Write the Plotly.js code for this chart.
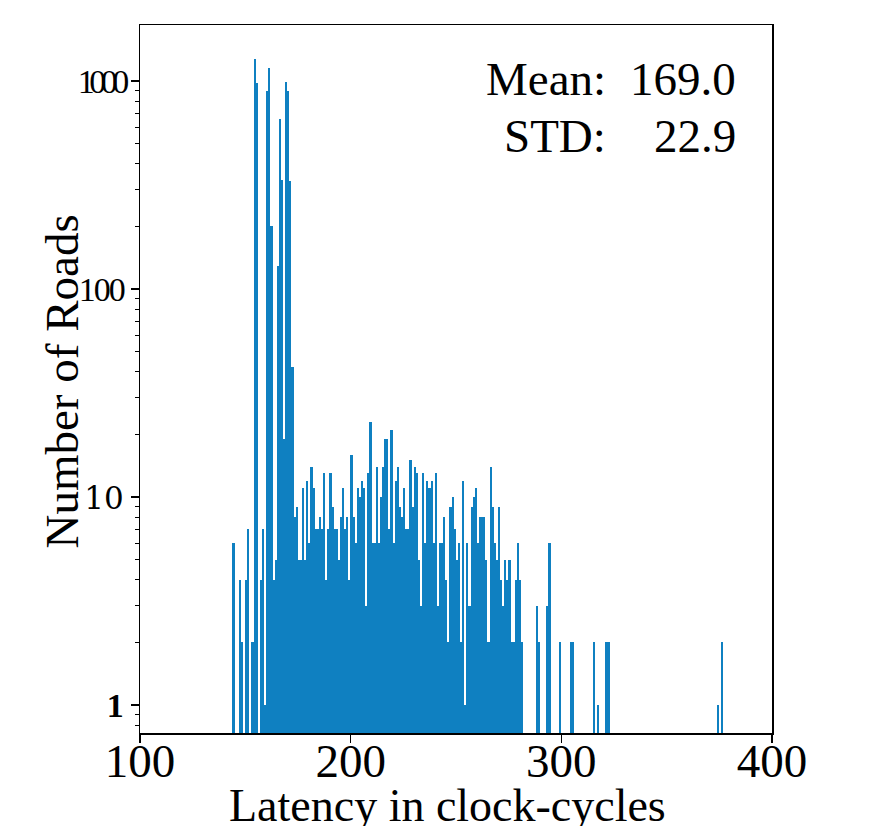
<!DOCTYPE html>
<html>
<head>
<meta charset="utf-8">
<script src="https://cdn.plot.ly/plotly-3.0.1.min.js"></script>
<style>
  html, body { margin: 0; padding: 0; background: #ffffff; }
  #chart { width: 881px; height: 826px; }
</style>
</head>
<body>
<div id="chart"></div>
<script>
// Latency bins (clock-cycles, width 1) that hold at least one road
const latencyBins = [
  144, 147, 148, 150, 151, 153, 154, 155, 157, 158, 159, 160, 161, 162, 163, 164, 165, 166, 167, 168,
  169, 170, 171, 172, 173, 174, 175, 176, 177, 178, 179, 180, 181, 182, 183, 184, 185, 186, 187, 188,
  189, 190, 191, 192, 193, 194, 195, 196, 197, 198, 199, 200, 201, 202, 203, 204, 205, 206, 207, 208,
  209, 210, 211, 212, 213, 214, 215, 216, 217, 218, 219, 220, 221, 222, 223, 224, 225, 226, 227, 228,
  229, 230, 231, 232, 233, 234, 235, 236, 237, 238, 239, 240, 241, 242, 243, 244, 245, 246, 247, 248,
  249, 250, 251, 252, 253, 254, 255, 256, 257, 258, 259, 260, 261, 262, 263, 264, 265, 266, 267, 268,
  269, 270, 271, 272, 273, 274, 275, 276, 277, 278, 279, 280, 281, 288, 289, 293, 294, 299, 304, 305,
  315, 317, 321, 322, 374, 376
];
// Number of roads in each bin
const roadCounts = [
  6, 4, 2, 4, 7, 2, 1280, 975, 4, 7, 1, 890, 1150, 200, 4, 5, 129, 654, 334, 19,
  993, 898, 331, 42, 8, 9, 5, 5, 11, 5, 12, 6, 14, 11, 7, 7, 8, 7, 13, 4,
  7, 13, 9, 7, 7, 5, 8, 11, 7, 8, 4, 16, 8, 6, 11, 10, 12, 11, 3, 13,
  23, 6, 6, 14, 6, 10, 14, 19, 19, 7, 21, 6, 12, 14, 9, 8, 11, 7, 7, 15,
  9, 14, 13, 5, 3, 13, 6, 12, 11, 12, 6, 13, 3, 6, 6, 8, 4, 2, 9, 10,
  7, 5, 6, 2, 12, 1, 6, 3, 9, 10, 11, 6, 8, 8, 8, 5, 2, 14, 9, 6,
  5, 9, 4, 3, 5, 4, 5, 2, 2, 4, 6, 4, 2, 3, 2, 3, 6, 2, 2, 2,
  2, 1, 2, 2, 1, 2
];
const xTickVals = [100, 200, 300, 400];
const xTickText = ['100', '200', '300', '400'];
const yTickVals = [1, 10, 100, 1000];
const yTickText = ['1', '10', '100', '1000'];
const yMinorVals = [0.8, 0.9, 2, 3, 4, 5, 6, 7, 8, 9, 20, 30, 40, 50, 60, 70, 80, 90,
                    200, 300, 400, 500, 600, 700, 800, 900];
const statLabels = ['Mean:', 'STD:'];
const statValues = ['169.0', '22.9'];
const xTitle = 'Latency in clock-cycles';
const yTitle = 'Number of Roads';

const SERIF = 'Liberation Serif, Times New Roman, serif';

// y tick labels styled like the original (mixed widths)
const yTickStyled = yTickText.map(function (t) {
  if (t === '1') {
    return '<span style="font-weight:bold;font-size:34px">' + t + '</span>';
  }
  if (t === '10') {
    return '<span style="font-family:DejaVu Serif;font-size:31px">' + t + '</span>';
  }
  if (t === '100') {
    return '<span style="letter-spacing:-2px">' + t + '</span>';
  }
  return '<span style="letter-spacing:-5.5px">' + t + '</span>';
});

const trace = {
  type: 'bar',
  x: latencyBins,
  y: roadCounts,
  width: 1,
  offset: -0.1,
  marker: { color: '#0f80c1', line: { width: 0 } },
  hoverinfo: 'x+y'
};

const annotations = [];
const lineY = [0.9237, 0.8436];
statLabels.forEach(function (lab, i) {
  annotations.push({
    xref: 'paper', yref: 'paper', x: 0.7405, y: lineY[i],
    xanchor: 'right', yanchor: 'middle', showarrow: false,
    text: lab, font: { family: SERIF, size: 47, color: '#000' }
  });
  annotations.push({
    xref: 'paper', yref: 'paper', x: 0.9462, y: lineY[i],
    xanchor: 'right', yanchor: 'middle', showarrow: false,
    text: statValues[i], font: { family: SERIF, size: 47, color: '#000' }
  });
});
// axis titles
annotations.push({
  xref: 'paper', yref: 'paper', x: 0.4858, y: -0.1031,
  xanchor: 'center', yanchor: 'middle', showarrow: false,
  text: xTitle, font: { family: SERIF, size: 46, color: '#000' }
});
annotations.push({
  xref: 'paper', yref: 'paper', x: -0.1234, y: 0.4965,
  xanchor: 'center', yanchor: 'middle', showarrow: false, textangle: -90,
  text: yTitle, font: { family: SERIF, size: 47, color: '#000' }
});

const layout = {
  width: 881,
  height: 826,
  margin: { l: 140, r: 109, t: 25, b: 93, pad: 0 },
  paper_bgcolor: '#ffffff',
  plot_bgcolor: '#ffffff',
  showlegend: false,
  font: { family: SERIF, color: '#000' },
  xaxis: {
    range: [100, 400],
    tickmode: 'array',
    tickvals: xTickVals,
    ticktext: xTickText,
    ticks: 'outside',
    ticklen: 8,
    tickwidth: 1.5,
    tickcolor: '#000',
    ticklabelstandoff: -22,
    showline: true,
    linecolor: '#000',
    linewidth: 1.5,
    mirror: true,
    showgrid: false,
    zeroline: false,
    tickfont: { family: SERIF, size: 47, color: '#000' },
    automargin: false
  },
  yaxis: {
    type: 'log',
    range: [-0.1346, 3.269],
    tickmode: 'array',
    tickvals: yTickVals,
    ticktext: yTickStyled,
    ticks: 'outside',
    ticklen: 8,
    tickwidth: 1.5,
    tickcolor: '#000',
    minor: {
      tickmode: 'array',
      tickvals: yMinorVals,
      ticks: 'outside',
      ticklen: 4,
      tickwidth: 1,
      tickcolor: '#000',
      showgrid: false
    },
    showline: true,
    linecolor: '#000',
    linewidth: 1.5,
    mirror: true,
    showgrid: false,
    zeroline: false,
    tickfont: { family: SERIF, size: 34, color: '#000' },
    automargin: false
  },
  annotations: annotations,
  bargap: 0
};

Plotly.newPlot('chart', [trace], layout, { displayModeBar: false, staticPlot: true });
</script>
</body>
</html>
